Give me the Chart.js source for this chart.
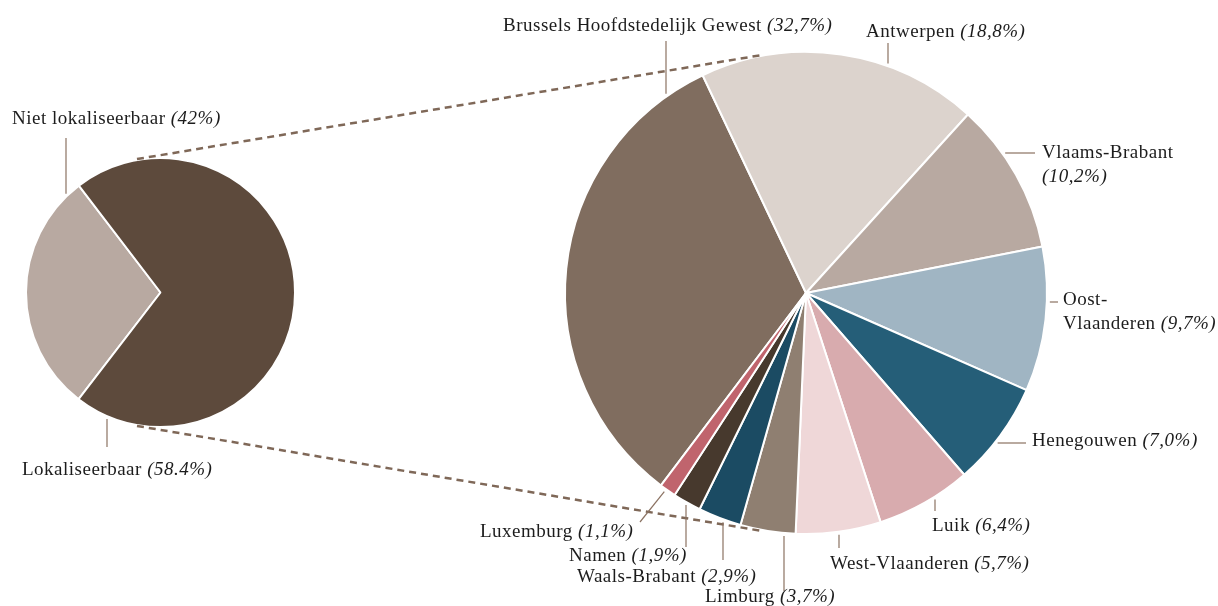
<!DOCTYPE html>
<html>
<head>
<meta charset="utf-8">
<script src="https://cdn.jsdelivr.net/npm/chart.js@4.4.1/dist/chart.umd.min.js"></script>
<style>
    html, body { margin: 0; padding: 0; background: #fff; }
    #wrap { position: relative; width: 1218px; height: 606px; }
    #wrap canvas { position: absolute; left: 0; top: 0; }
</style>
</head>
<body>
<div id="wrap">
    <canvas id="splitChart" width="1218" height="606"></canvas>
    <canvas id="regionChart" width="1218" height="606"></canvas>
</div>
<script>
// Left pie: share that can be located
const splitLabels = ['Niet lokaliseerbaar', 'Lokaliseerbaar'];
const splitPercents = ['(42%)', '(58.4%)'];
const splitValues = [29.2, 70.8];
const splitColors = ['#b8a9a1', '#5d4a3c'];

// Right pie: breakdown per region
const regionLabels = ['Brussels Hoofdstedelijk Gewest', 'Antwerpen', 'Vlaams-Brabant', 'Oost-Vlaanderen',
    'Henegouwen', 'Luik', 'West-Vlaanderen', 'Limburg', 'Waals-Brabant', 'Namen', 'Luxemburg'];
const regionPercents = ['(32,7%)', '(18,8%)', '(10,2%)', '(9,7%)', '(7,0%)', '(6,4%)', '(5,7%)',
    '(3,7%)', '(2,9%)', '(1,9%)', '(1,1%)'];
const regionValues = [32.7, 18.8, 10.2, 9.7, 7.0, 6.4, 5.7, 3.7, 2.9, 1.9, 1.1];
const regionColors = ['#806d5f', '#dcd3cd', '#b8a9a1', '#a0b5c3', '#255e78', '#d8abae',
    '#efd7d8', '#8f7f71', '#1b4b63', '#47392d', '#c0646d'];

// Label placement (text anchor + leader line)
// lead: ['v', x, yEnd] vertical from pie edge, ['h', y, xEnd] horizontal, ['d', angle, x, y] diagonal
const splitLayout = [
    { x: 12, y: 124, lead: ['v', 66, 138] },
    { x: 22, y: 475, lead: ['v', 107, 447] }
];
const regionLayout = [
    { x: 503, y: 31, lead: ['v', 666, 41] },
    { x: 866, y: 37, lead: ['v', 888, 43] },
    { x: 1042, y: 158, lead: ['h', 153, 1035], pctOwnLine: true },
    { x: 1063, y: 305, lead: ['h', 302, 1058], breakAfter: 'Oost-' },
    { x: 1032, y: 446, lead: ['h', 443, 1026] },
    { x: 932, y: 531, lead: ['v', 935, 511] },
    { x: 830, y: 569, lead: ['v', 839, 548] },
    { x: 705, y: 602, lead: ['v', 784, 591] },
    { x: 577, y: 582, lead: ['v', 723, 560] },
    { x: 569, y: 561, lead: ['v', 686, 547] },
    { x: 480, y: 537, lead: ['d', 215.5, 640, 522] }
];

const FONT_FAMILY = '"Liberation Serif", "Times New Roman", serif';
const FONT_SIZE = 19;
const LETTER_SPACING = '0.5px';
const LINE_GAP = 24;
const TEXT_COLOR = '#1c1c1c';
const LEAD_COLOR = '#8b7262';
const DASH_COLOR = '#7f6858';

let splitChart = null;
let regionChart = null;

// Point on a pie edge, angle in degrees clockwise from 12 o'clock
function edgePoint(arc, deg, extra) {
    const a = (deg - 90) * Math.PI / 180;
    const r = arc.outerRadius + extra;
    return { x: arc.x + Math.cos(a) * r, y: arc.y + Math.sin(a) * r };
}

function drawLeader(ctx, arc, lead) {
    const gap = 3;
    const r = arc.outerRadius;
    let x1, y1, x2, y2;
    if (lead[0] === 'v') {
        x1 = x2 = lead[1];
        const half = Math.sqrt(Math.max(r * r - (x1 - arc.x) ** 2, 0));
        y2 = lead[2];
        y1 = y2 < arc.y ? arc.y - half - gap : arc.y + half + gap;
    } else if (lead[0] === 'h') {
        y1 = y2 = lead[1];
        const half = Math.sqrt(Math.max(r * r - (y1 - arc.y) ** 2, 0));
        x2 = lead[2];
        x1 = x2 > arc.x ? arc.x + half + gap : arc.x - half - gap;
    } else {
        const p = edgePoint(arc, lead[1], gap);
        x1 = p.x; y1 = p.y; x2 = lead[2]; y2 = lead[3];
    }
    ctx.beginPath();
    ctx.moveTo(x1, y1);
    ctx.lineTo(x2, y2);
    ctx.stroke();
}

function drawLabel(ctx, name, pct, spec) {
    const regular = FONT_SIZE + 'px ' + FONT_FAMILY;
    const italic = 'italic ' + FONT_SIZE + 'px ' + FONT_FAMILY;
    let lines;
    if (spec.pctOwnLine) {
        lines = [[name, ''], ['', pct]];
    } else if (spec.breakAfter) {
        lines = [[spec.breakAfter, ''], [name.slice(spec.breakAfter.length), pct]];
    } else {
        lines = [[name, pct]];
    }
    lines.forEach((ln, i) => {
        const y = spec.y + i * LINE_GAP;
        let x = spec.x;
        if (ln[0]) {
            ctx.font = regular;
            ctx.fillText(ln[0], x, y);
            x += ctx.measureText(ln[0] + (ln[1] ? ' ' : '')).width;
        }
        if (ln[1]) {
            ctx.font = italic;
            ctx.fillText(ln[1], x, y);
        }
    });
}

// Annotations: dashed connectors, leader lines and labels
const annotations = {
    id: 'annotations',
    afterDraw(chart) {
        const ctx = chart.ctx;
        const bigArc = chart.getDatasetMeta(0).data[0];
        const smallArc = splitChart.getDatasetMeta(0).data[0];

        ctx.save();
        // dashed lines joining both pies
        ctx.strokeStyle = DASH_COLOR;
        ctx.lineWidth = 2.5;
        ctx.setLineDash([7, 5]);
        [-10, 190].forEach(deg => {
            const a = edgePoint(smallArc, deg, 1);
            const b = edgePoint(bigArc, deg, 1);
            ctx.beginPath();
            ctx.moveTo(a.x, a.y);
            ctx.lineTo(b.x, b.y);
            ctx.stroke();
        });
        ctx.setLineDash([]);

        ctx.strokeStyle = LEAD_COLOR;
        ctx.lineWidth = 1.2;
        splitLayout.forEach(spec => drawLeader(ctx, smallArc, spec.lead));
        regionLayout.forEach(spec => drawLeader(ctx, bigArc, spec.lead));

        ctx.fillStyle = TEXT_COLOR;
        ctx.textBaseline = 'alphabetic';
        ctx.textAlign = 'left';
        if ('letterSpacing' in ctx) ctx.letterSpacing = LETTER_SPACING;
        splitLabels.forEach((name, i) => drawLabel(ctx, name, splitPercents[i], splitLayout[i]));
        regionLabels.forEach((name, i) => drawLabel(ctx, name, regionPercents[i], regionLayout[i]));
        ctx.restore();
    }
};

function pieOptions(rotation, padding) {
    return {
        responsive: false,
        animation: false,
        rotation: rotation,
        layout: { padding: padding },
        plugins: {
            legend: { display: false },
            tooltip: { enabled: false }
        }
    };
}

// Left pie
splitChart = new Chart(document.getElementById('splitChart'), {
    type: 'pie',
    data: {
        labels: splitLabels,
        datasets: [{
            data: splitValues,
            backgroundColor: splitColors,
            borderColor: '#ffffff',
            borderWidth: 2
        }]
    },
    options: pieOptions(217.5, { left: 25, top: 157, right: 922, bottom: 178 })
});

// Right pie
regionChart = new Chart(document.getElementById('regionChart'), {
    type: 'pie',
    data: {
        labels: regionLabels,
        datasets: [{
            data: regionValues,
            backgroundColor: regionColors,
            borderColor: '#ffffff',
            borderWidth: 2
        }]
    },
    options: pieOptions(217, { left: 564, top: 51, right: 170, bottom: 71 }),
    plugins: [annotations]
});
</script>
</body>
</html>
